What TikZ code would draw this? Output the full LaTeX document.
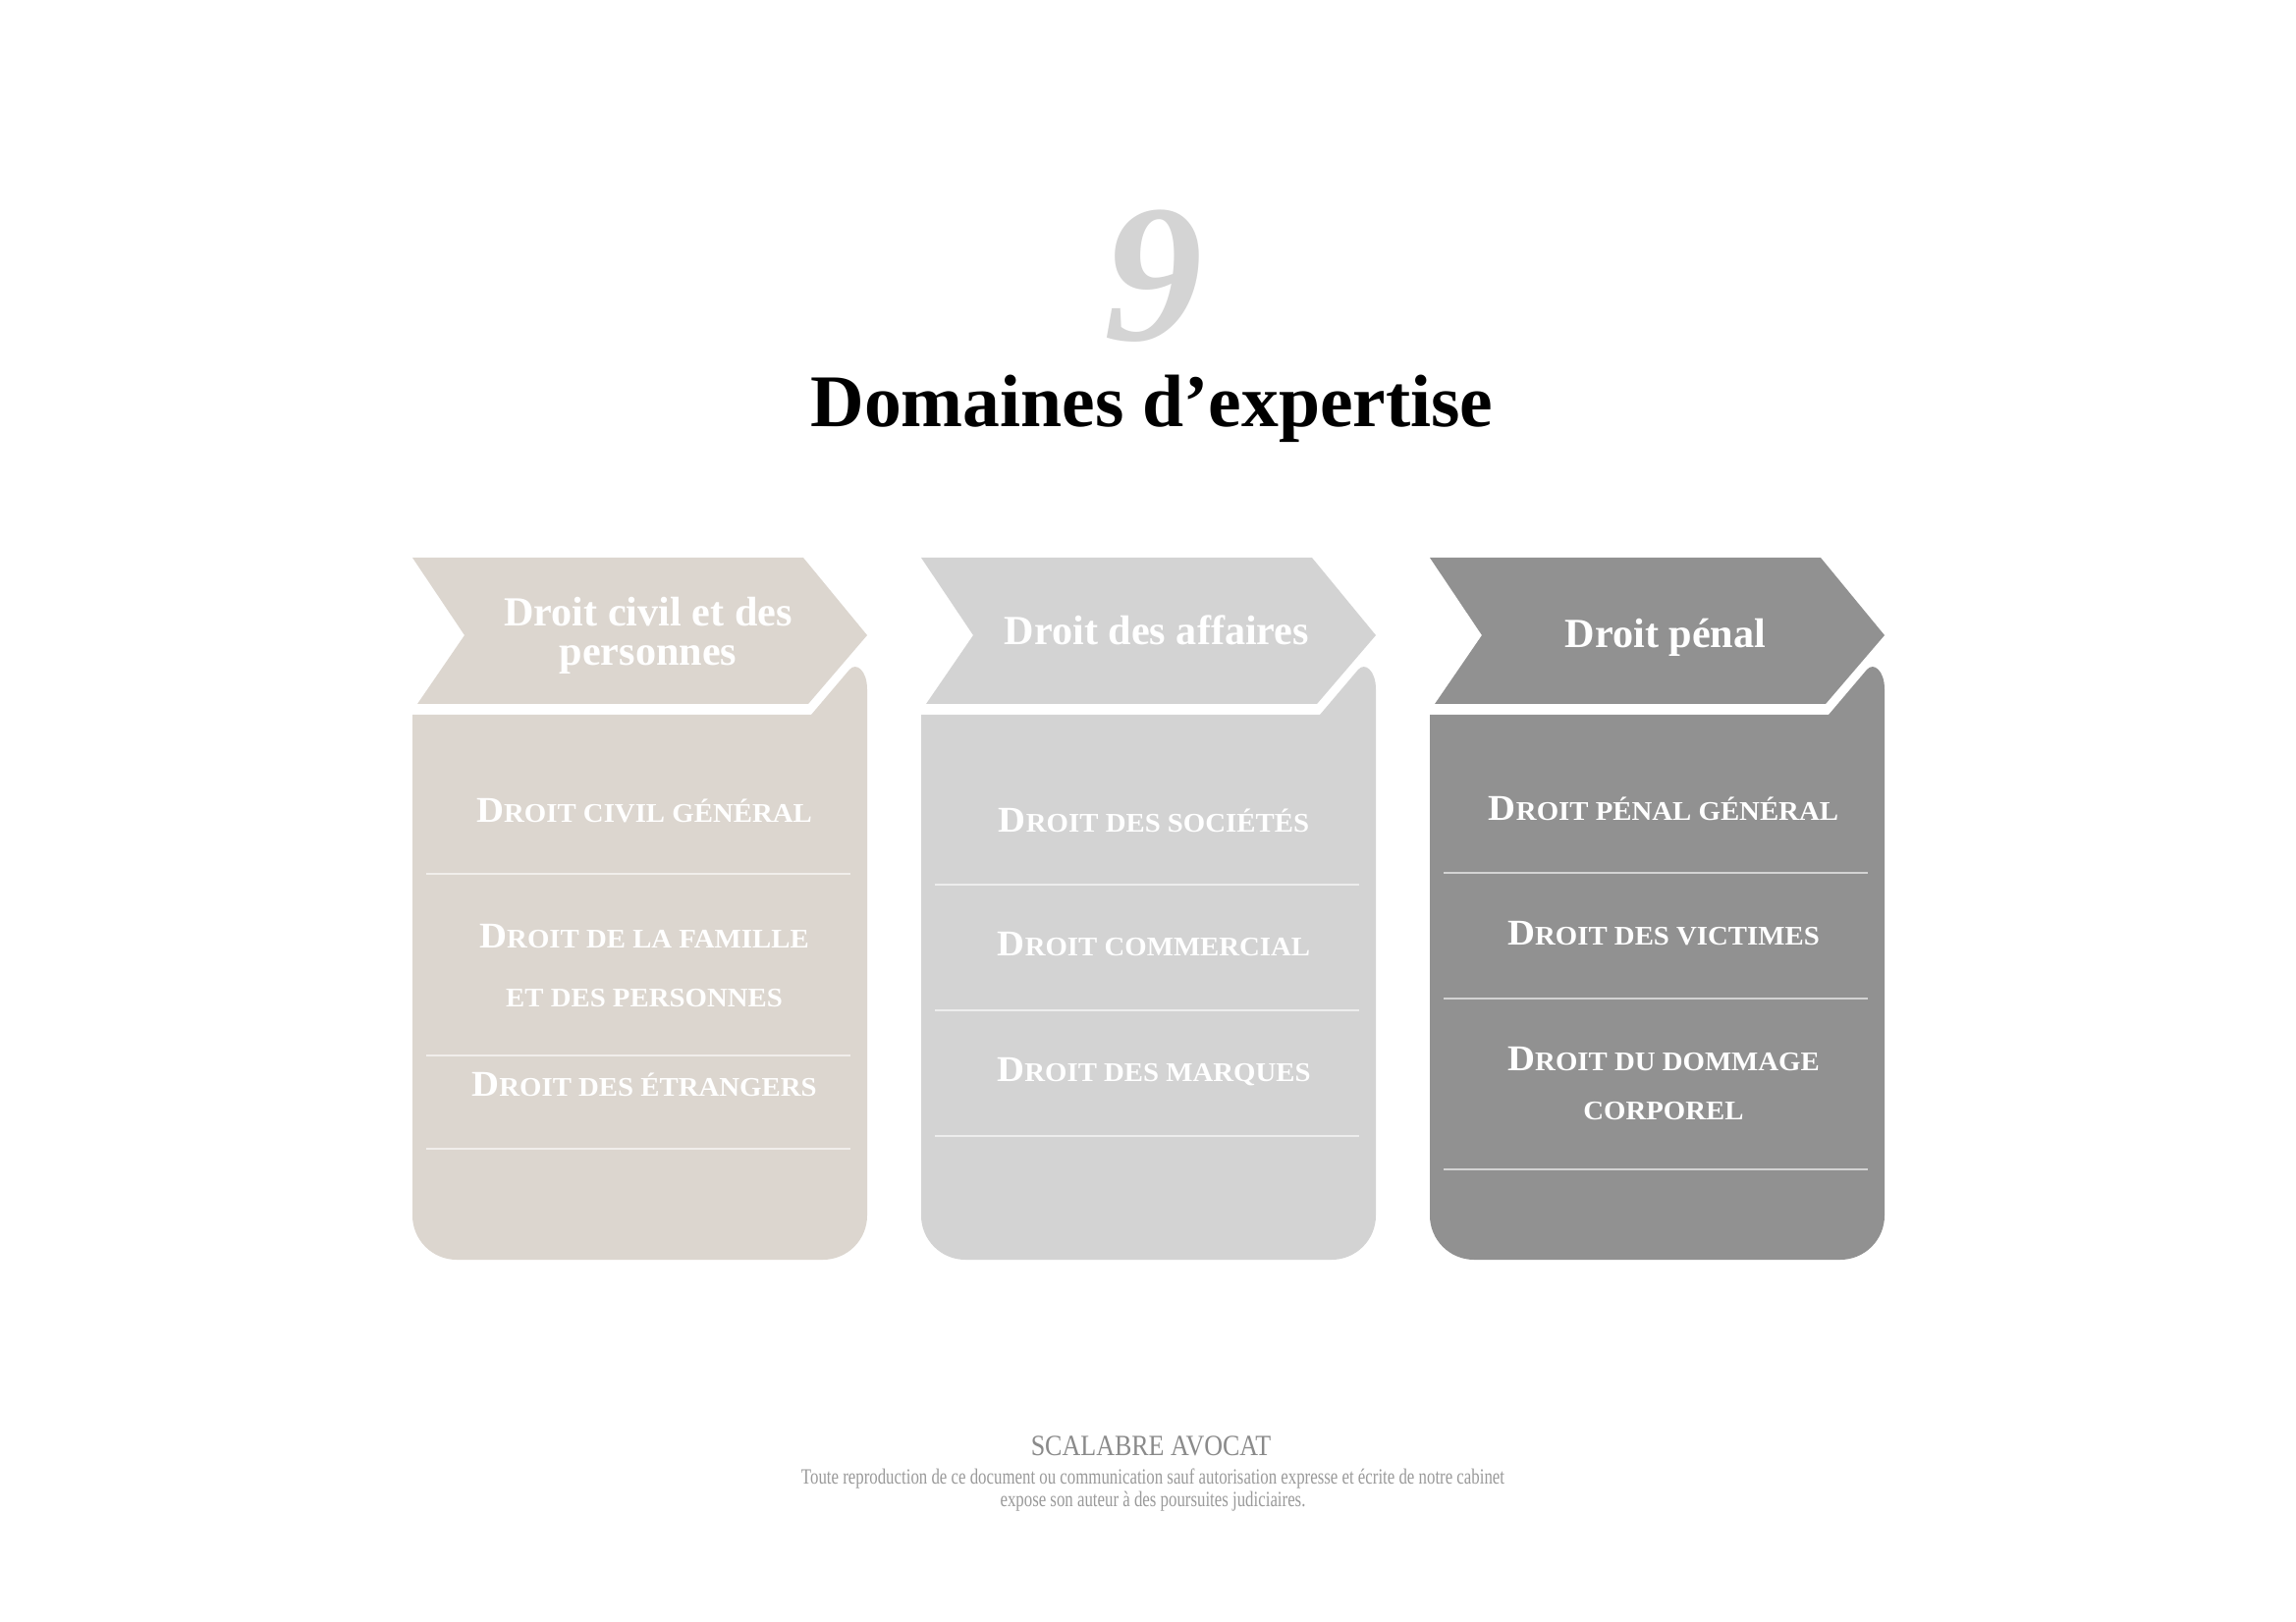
\documentclass[tikz,border=0pt]{standalone}
\usepackage{fontspec}
\setmainfont{Liberation Serif}
\newfontfamily\itemfont[FakeStretch=1.05]{Liberation Serif}
\newfontfamily\namefont[FakeStretch=0.87]{Liberation Serif}
\newfontfamily\notefont[FakeStretch=0.76]{Liberation Serif}

\definecolor{civilfill}{HTML}{DCD6CF}
\definecolor{affairesfill}{HTML}{D3D3D3}
\definecolor{penalfill}{HTML}{919191}
\definecolor{chiffregray}{HTML}{D4D4D4}
\definecolor{namegray}{HTML}{8A8A8A}
\definecolor{notegray}{HTML}{9A9A9A}

% petites capitales faites a la main
\newcommand\psc[2]{{\fontsize{10.5}{11}\selectfont #1}{\fontsize{7.8}{11}\selectfont #2}}

\tikzset{
  entete/.style={text=white, font=\bfseries\fontsize{12}{11.4}\selectfont, align=center, anchor=base},
  rubrique/.style={text=white, font=\itemfont\bfseries, align=center, anchor=base},
  filet/.style={white, opacity=0.6, line width=0.5pt},
}

\begin{document}
\begin{tikzpicture}[x=0.01cm, y=-0.01cm]

        \fill[white] (0,0) rectangle (2338,1652);
        \useasboundingbox (0,0) rectangle (2338,1652);

        \node[anchor=base, text=chiffregray, font=\bfseries\itshape\fontsize{57}{60}\selectfont] (chiffre) at (1175,347) {9};
        \node[anchor=base, font=\bfseries\fontsize{21.5}{24}\selectfont] (titre) at (1173,435) {Domaines d’expertise};

        % droit civil
        \fill[civilfill] (420,568) -- (420+398,568) -- (420+463,647) -- (420+403,717) -- (420+5,717) -- (420+53,647) -- cycle;
        \fill[civilfill] (420,728) -- (420+406,728) -- (420+445,682) .. controls (420+452,674) and (420+463,683) .. (420+463,702)
            -- (420+463,1238) arc[start angle=0, end angle=90, radius=45] -- (420+45,1283) arc[start angle=90, end angle=180, radius=45] -- cycle;
        \node[entete] (civil) at (660,678) {Droit civil et des\\personnes};
        \node[rubrique] (civilgeneral) at (656,838) {\psc{D}{ROIT CIVIL GÉNÉRAL}};
        \draw[filet] (420+14,890) -- (420+446,890);
        \node[rubrique] (famille) at (656,1025) {\psc{D}{ROIT DE LA FAMILLE}\\[5pt]\psc{}{ET DES PERSONNES}};
        \draw[filet] (420+14,1075) -- (420+446,1075);
        \node[rubrique] (etrangers) at (656,1116) {\psc{D}{ROIT DES ÉTRANGERS}};
        \draw[filet] (420+14,1170) -- (420+446,1170);

        % droit des affaires
        \fill[affairesfill] (938,568) -- (938+398,568) -- (938+463,647) -- (938+403,717) -- (938+5,717) -- (938+53,647) -- cycle;
        \fill[affairesfill] (938,728) -- (938+406,728) -- (938+445,682) .. controls (938+452,674) and (938+463,683) .. (938+463,702)
            -- (938+463,1238) arc[start angle=0, end angle=90, radius=45] -- (938+45,1283) arc[start angle=90, end angle=180, radius=45] -- cycle;
        \node[entete] (affaires) at (1178,657) {Droit des affaires};
        \node[rubrique] (societes) at (1175,847) {\psc{D}{ROIT DES SOCIÉTÉS}};
        \draw[filet] (938+14,901) -- (938+446,901);
        \node[rubrique] (commercial) at (1175,973) {\psc{D}{ROIT COMMERCIAL}};
        \draw[filet] (938+14,1029) -- (938+446,1029);
        \node[rubrique] (marques) at (1175,1101) {\psc{D}{ROIT DES MARQUES}};
        \draw[filet] (938+14,1157) -- (938+446,1157);

        % droit penal
        \fill[penalfill] (1456,568) -- (1456+398,568) -- (1456+463,647) -- (1456+403,717) -- (1456+5,717) -- (1456+53,647) -- cycle;
        \fill[penalfill] (1456,728) -- (1456+406,728) -- (1456+445,682) .. controls (1456+452,674) and (1456+463,683) .. (1456+463,702)
            -- (1456+463,1238) arc[start angle=0, end angle=90, radius=45] -- (1456+45,1283) arc[start angle=90, end angle=180, radius=45] -- cycle;
        \node[entete] (penal) at (1696,660) {Droit pénal};
        \node[rubrique] (penalgeneral) at (1694,836) {\psc{D}{ROIT PÉNAL GÉNÉRAL}};
        \draw[filet] (1456+14,889) -- (1456+446,889);
        \node[rubrique] (victimes) at (1694,962) {\psc{D}{ROIT DES VICTIMES}};
        \draw[filet] (1456+14,1017) -- (1456+446,1017);
        \node[rubrique] (dommage) at (1694,1140) {\psc{D}{ROIT DU DOMMAGE}\\[2.2pt]\psc{}{CORPOREL}};
        \draw[filet] (1456+14,1191) -- (1456+446,1191);

        \node[anchor=base, text=namegray, font=\namefont\fontsize{8.5}{10}\selectfont] (cabinet) at (1172,1482) {SCALABRE AVOCAT};
        \node[anchor=base, align=center, text=notegray, font=\notefont\fontsize{6.3}{6.3}\selectfont] (mention) at (1174,1534)
            {Toute reproduction de ce document ou communication sauf autorisation expresse et écrite de notre cabinet\\expose son auteur à des poursuites judiciaires.};
    \end{tikzpicture}
\end{document}
